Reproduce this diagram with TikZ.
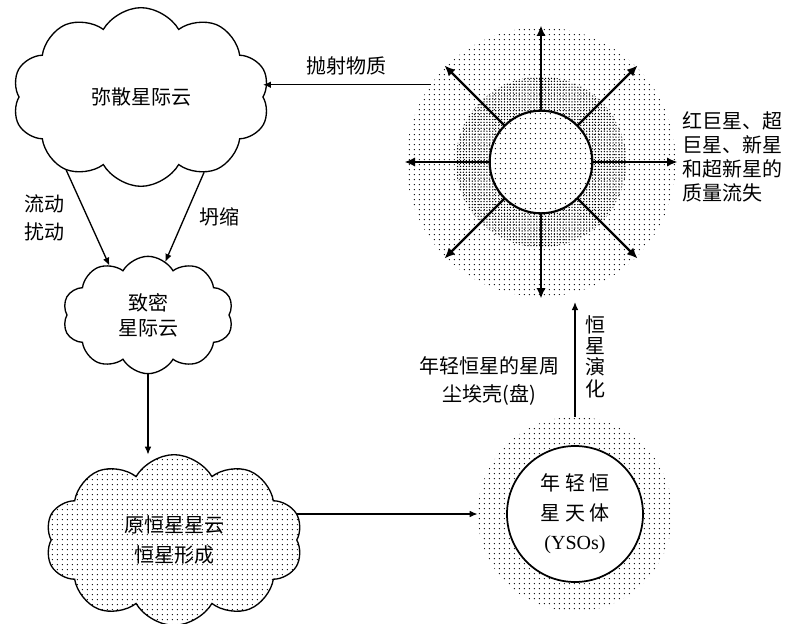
\documentclass[tikz,border=0pt]{standalone}
\usepackage{fontspec}
\setmainfont{Liberation Serif}
\newfontfamily\cjk{Noto Sans CJK SC}
\usetikzlibrary{shapes.symbols,patterns.meta,arrows.meta,positioning}

\begin{document}
\begin{tikzpicture}[x=0.75pt,y=-0.75pt,
        every node/.style={font=\cjk\fontsize{15pt}{21pt}\selectfont},
        cloudbox/.style={cloud, cloud puffs=10, cloud puff arc=120, cloud ignores aspect, draw, line width=1pt, outer sep=0pt, align=center},
        flow/.style={line width=1pt, -{Latex[length=6pt,width=5pt]}},
        burst/.style={line width=1.6pt, -{Latex[length=8pt,width=7pt]}},
        sparse/.style={pattern={Dots[distance=4pt,radius=0.55pt]}},
        packed/.style={pattern={Dots[distance=2.2pt,radius=0.55pt]}},
        tag/.style={inner sep=1pt, align=center}]
            \useasboundingbox (0,0) rectangle (785,624);

            % Clouds
            \node[cloudbox, minimum width=193pt, minimum height=134pt] (diffuse) at (141,97) {弥散星际云};
            \node[cloudbox, minimum width=128pt, minimum height=88pt, font=\cjk\fontsize{15pt}{19pt}\selectfont] (densecloud) at (148,315) {致密\\星际云};
            \node[cloudbox, minimum width=193pt, minimum height=128pt, preaction={fill=white}, sparse, font=\cjk\fontsize{15pt}{22pt}\selectfont] (protocloud) at (174,540) {原恒星星云\\恒星形成};

            % Evolved star losing mass
            \node[circle, minimum size=202pt, outer sep=0pt, sparse] (shell) at (541,162) {};
            \node[circle, minimum size=128pt, outer sep=0pt, packed] (halo) at (541,162) {};
            \node[circle, minimum size=77pt, outer sep=0pt, draw, line width=1.6pt, preaction={fill=white}, sparse] (giant) at (541,162) {};
            \foreach \a in {0,45,...,315}
                \draw[burst] (giant.\a) -- ++(\a:64pt);
            \node[right=5pt of shell.east, yshift=4pt, inner sep=0pt, align=left, font=\cjk\fontsize{15pt}{18pt}\selectfont] (losslabel) {红巨星、超\\巨星、新星\\和超新星的\\质量流失};

            % Young stellar object
            \node[circle, minimum size=146pt, outer sep=0pt, sparse] (ysodust) at (575,514) {};
            \node[circle, minimum size=102pt, draw, line width=1.3pt, fill=white, align=center, font=\cjk\fontsize{15pt}{22pt}\selectfont] (yso) at (575,514) {年 轻 恒\\星 天 体\\{\rmfamily (YSOs)}};

            % Connectors
            \draw[flow] (shell.145) -- (shell.145 -| diffuse.east) node[tag, midway, above=6pt] {抛射物质};
            \draw[flow] (diffuse.224) -- (densecloud.128) node[tag, midway, left=16pt] {流动\\扰动};
            \draw[flow] (diffuse.310) -- (densecloud.72) node[tag, midway, right=10pt] {坍缩};
            \draw[flow] (densecloud.south) -- (densecloud.south |- protocloud.north);
            \draw[flow] (protocloud.east |- ysodust.west) -- (ysodust.west);
            \draw[flow, shorten >=4pt] (ysodust.north) -- (ysodust.north |- shell.south)
                node[tag, midway, right=6pt, font=\cjk\fontsize{15pt}{16pt}\selectfont] {恒\\星\\演\\化}
                node[tag, pos=0.3, left=10pt] {年轻恒星的星周\\尘埃壳(盘)};
        \end{tikzpicture}
\end{document}
